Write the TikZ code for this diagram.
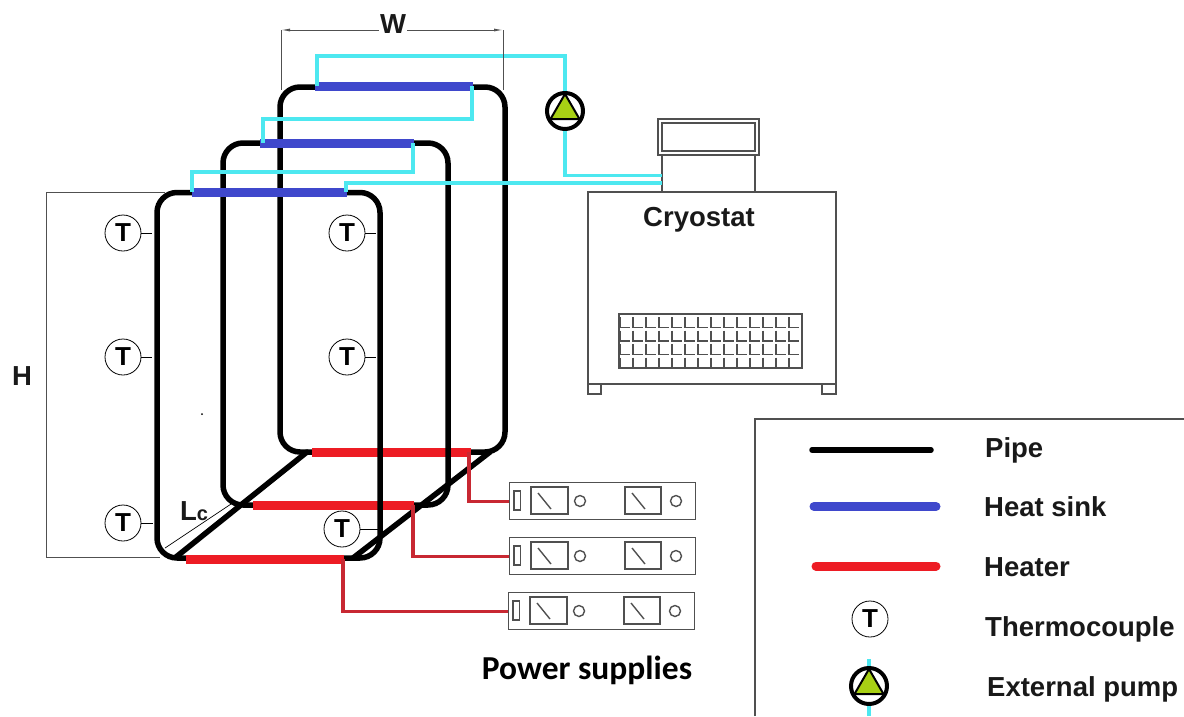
\documentclass[tikz,border=0pt]{standalone}
\usepackage{fontspec}
\setmainfont{Liberation Sans}
\newfontfamily\calibrilike{Carlito}
\usetikzlibrary{arrows.meta}
\definecolor{sinkblue}{RGB}{63, 72, 204}
\definecolor{heatred}{RGB}{237, 28, 36}
\definecolor{wirered}{RGB}{200, 40, 50}
\definecolor{coolcyan}{RGB}{77, 232, 240}
\definecolor{pumpgreen}{RGB}{168, 208, 20}
\definecolor{linegray}{RGB}{80, 80, 80}
\tikzset{
	pipe/.style={draw=black,line width=5.5pt,line cap=round},
	sink/.style={draw=sinkblue,line width=9pt},
	heater/.style={draw=heatred,line width=9pt},
	legendbar/.style={line cap=round},
	coolwire/.style={draw=coolcyan,line width=3.5pt},
	heatwire/.style={draw=wirered,line width=3.2pt},
	dimline/.style={draw=linegray,line width=0.9pt},
	unitline/.style={draw=linegray,line width=1.4pt},
	tc/.style={draw=black,circle,fill=white,line width=0.8pt,minimum size=36pt,inner sep=0pt,font=\fontsize{26}{26}\selectfont\bfseries},
	lbl/.style={font=\fontsize{27.5}{27.5}\selectfont\bfseries,inner sep=0pt,text=black!90},
	legendlbl/.style={lbl,anchor=west},
	pumpsym/.pic={
		\node[draw=black,circle,fill=white,line width=4pt,minimum size=36pt,inner sep=0pt] (-c) at (0,0){};
		\draw[fill=pumpgreen,draw=black,line width=2pt,line join=round] (0,-17) -- (14.5,8) -- (-14.5,8) -- cycle;
	},
}
\begin{document}
\begin{tikzpicture}[x=1pt,y=-1pt]
	\useasboundingbox (0,0) rectangle (1184,716);

	\coordinate (a1) at (157,192.5);
	\coordinate (a2) at (380,558);
	\coordinate (b1) at (223,143);
	\coordinate (b2) at (448,505);
	\coordinate (c1) at (280,87);
	\coordinate (c2) at (505,452);

	\coordinate (ha1) at (186,559);
	\coordinate (ha2) at (344,559);
	\coordinate (hb1) at (253,505);
	\coordinate (hb2) at (414,505);
	\coordinate (hc1) at (312,452);
	\coordinate (hc2) at (471,452);

	\coordinate (sa1) at (192,192);
	\coordinate (sa2) at (347,192);
	\coordinate (sb1) at (260,143);
	\coordinate (sb2) at (414,143);
	\coordinate (sc1) at (315,86);
	\coordinate (sc2) at (473,86);

	\coordinate (da1) at (176,557);
	\coordinate (da2) at (307,452);
	\coordinate (db1) at (353,558);
	\coordinate (db2) at (490,452);

	\coordinate (w1) at (281,30);
	\coordinate (w2) at (503,30);
	\coordinate (w3) at (281,90);
	\coordinate (w4) at (503,90);
	\coordinate (h1) at (46,192);
	\coordinate (h2) at (46,557);
	\coordinate (h3) at (165,192);
	\coordinate (h4) at (160,557);
	\coordinate (l1) at (165,548);
	\coordinate (l2) at (231,504);

	\coordinate (t1e) at (152,233);
	\coordinate (t2e) at (152,357);
	\coordinate (t3e) at (153,523);
	\coordinate (t4e) at (376,233);
	\coordinate (t5e) at (376,357);
	\coordinate (t6e) at (378,529);

	\coordinate (q1) at (317,56);
	\coordinate (q2) at (565,56);
	\coordinate (q3) at (565,175.5);
	\coordinate (q4) at (662,175.5);
	\coordinate (q5) at (472,119);
	\coordinate (q6) at (263,119);
	\coordinate (q7) at (413,172);
	\coordinate (q8) at (192,172);
	\coordinate (q9) at (346,183);
	\coordinate (q10) at (662,183);
	\coordinate (r1) at (317,86);
	\coordinate (r2) at (472,86);
	\coordinate (r3) at (263,143);
	\coordinate (r4) at (413,143);
	\coordinate (r5) at (192,192);
	\coordinate (r6) at (346,192);

	% cryostat
	\draw[unitline] (588,192) rectangle (836,384);
	\draw[unitline] (588,384) rectangle (601,394);
	\draw[unitline] (822,384) rectangle (836,394);
	\draw[unitline] (662,155) rectangle (755,192);
	\draw[unitline] (658,119) rectangle (759,155);
	\draw[unitline] (662,123) rectangle (755,151);
	\draw[unitline] (619,314) rectangle (802,368);
	\foreach \xx in {0,...,13}
		\foreach \yy in {314,327.5,341,354.5}
			\draw[unitline] (620+13*\xx,\yy+3) -- (620+13*\xx,\yy+13.5) -- (630+13*\xx,\yy+13.5);
	\node[lbl] (cryo) at (699,220) {Cryostat};

	% loops, back to front
	\draw[pipe,rounded corners=20pt] (c1) rectangle (c2);
	\draw[heater] (hc1) -- (hc2);
	\draw[pipe,rounded corners=20pt] (b1) rectangle (b2);
	\draw[heater] (hb1) -- (hb2);
	\draw[pipe,rounded corners=20pt] (a1) rectangle (a2);
	\draw[pipe] (da1) -- (da2);
	\draw[pipe] (db1) -- (db2);
	\draw[heater] (ha1) -- (ha2);
	\draw[sink] (sa1) -- (sa2);
	\draw[sink] (sb1) -- (sb2);
	\draw[sink] (sc1) -- (sc2);

	\node[tc] (t1) at (123,233){T};
	\node[tc] (t2) at (123,357){T};
	\node[tc] (t3) at (123,523){T};
	\node[tc] (t4) at (347,233){T};
	\node[tc] (t5) at (347,357){T};
	\node[tc] (t6) at (342,529){T};
	\draw[line width=0.8pt] (t1) -- (t1e);
	\draw[line width=0.8pt] (t2) -- (t2e);
	\draw[line width=0.8pt] (t3) -- (t3e);
	\draw[line width=0.8pt] (t4) -- (t4e);
	\draw[line width=0.8pt] (t5) -- (t5e);
	\draw[line width=0.8pt] (t6) -- (t6e);
	\pic (pumpa) at (565,111) {pumpsym};

	\draw[coolwire] (r1) -- (q1) -- (q2) -- (pumpa-c);
	\draw[coolwire] (pumpa-c) -- (q3) -- (q4);
	\draw[coolwire] (r2) -- (q5) -- (q6) -- (r3);
	\draw[coolwire] (r4) -- (q7) -- (q8) -- (r5);
	\draw[coolwire] (r6) -- (q9) -- (q10);

	% power supplies
	\foreach \n/\xx/\yy in {3/509/482,2/509/537,1/508/592}{
		\node[unitline,draw,anchor=north west,minimum width=186pt,minimum height=37pt,inner sep=0pt] (ps\n) at (\xx,\yy){};
		\draw[unitline] (\xx+5,\yy+9) rectangle (\xx+11.5,\yy+28);
		\draw[unitline] (\xx+22,\yy+5) rectangle (\xx+59,\yy+32);
		\draw[unitline] (\xx+116,\yy+5) rectangle (\xx+152,\yy+32);
		\draw[unitline] (\xx+29,\yy+11) -- (\xx+42,\yy+27);
		\draw[unitline] (\xx+123,\yy+11) -- (\xx+136,\yy+27);
		\draw[unitline] (\xx+71,\yy+19) circle (5.5);
		\draw[unitline] (\xx+167,\yy+19) circle (5.5);
	}
	\draw[heatwire] (hc2) ++(-2,0) |- (ps3.west);
	\draw[heatwire] (hb2) ++(-1,0) |- (ps2.west);
	\draw[heatwire] (ha2) ++(-1,0) |- (ps1.west);
	\node[font=\fontsize{33.5}{33.5}\selectfont\calibrilike\bfseries,inner sep=0pt] (pslabel) at (587,670) {Power supplies};

	% dimensions
	\draw[dimline,{Latex[length=9pt,width=3pt]}-{Latex[length=9pt,width=3pt]}] (w1) -- (w2);
	\draw[dimline] (w1) -- (w3);
	\draw[dimline] (w2) -- (w4);
	\draw[dimline] (h1) -- (h2);
	\draw[dimline] (h1) -- (h3);
	\draw[dimline] (h2) -- (h4);
	\draw[line width=0.7pt] (l1) -- (l2);
	\node[lbl,fill=white,inner xsep=1pt] (wlabel) at (393,24) {W};
	\node[lbl] (hlabel) at (22,376) {H};
	\node[lbl,anchor=base west] (lclabel) at (180,520) {L{\fontsize{20}{20}\selectfont c}};
	\fill (202,414) circle (1);

	% legend
	\coordinate (e1) at (755,716);
	\coordinate (e2) at (755,419);
	\coordinate (e3) at (1184,419);
	\draw[unitline] (e1) -- (e2) -- (e3);
	\coordinate (k1) at (812,450);
	\coordinate (k2) at (931,450);
	\coordinate (k3) at (814,506.5);
	\coordinate (k4) at (936,506.5);
	\coordinate (k5) at (816,566);
	\coordinate (k6) at (936,566);
	\coordinate (k7) at (869,659);
	\coordinate (k8) at (869,716);
	\draw[pipe] (k1) -- (k2);
	\draw[sink,legendbar] (k3) -- (k4);
	\draw[heater,legendbar] (k5) -- (k6);
	\node[tc] (tk) at (870,619){T};
	\pic (pumpb) at (869,686) {pumpsym};
	\draw[coolwire] (k7) -- (pumpb-c);
	\draw[coolwire] (pumpb-c) -- (k8);
	\node[legendlbl] (l1t) at (985,450) {Pipe};
	\node[legendlbl] (l2t) at (984,507) {Heat sink};
	\node[legendlbl] (l3t) at (984,567) {Heater};
	\node[legendlbl] (l4t) at (985,629) {Thermocouple};
	\node[legendlbl] (l5t) at (987,689) {External pump};
\end{tikzpicture}
\end{document}
